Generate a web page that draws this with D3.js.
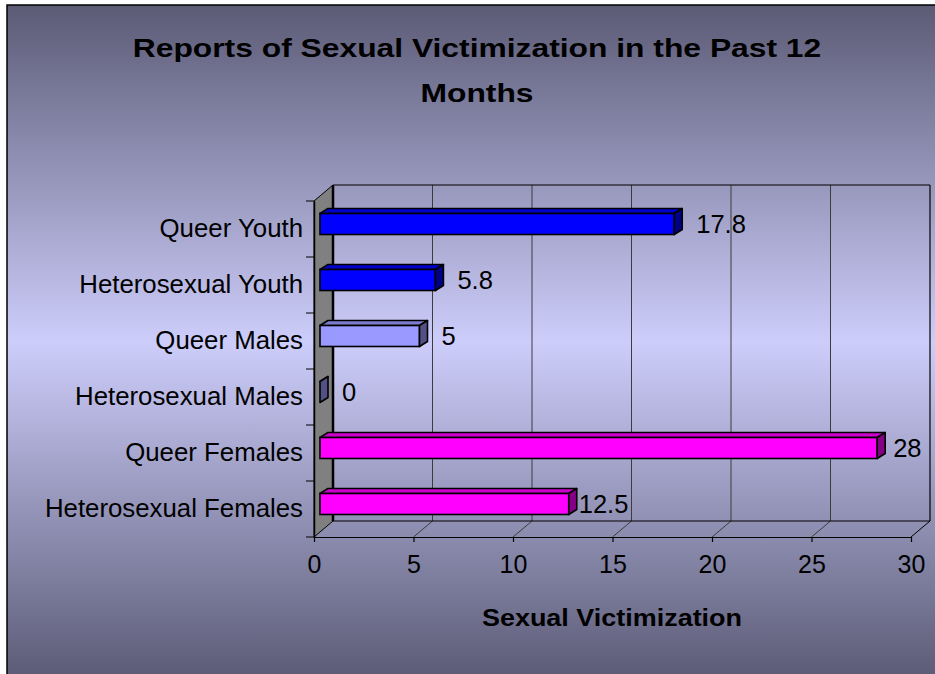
<!DOCTYPE html>
<html>
<head>
<meta charset="utf-8">
<script src="https://cdn.jsdelivr.net/npm/d3@7"></script>
<style>
    body { margin: 0; background: #fff; }
    svg { display: block; font-family: "Liberation Sans", Arial, sans-serif; }
</style>
</head>
<body>
<div class="charts-container"></div>
<script>
// chart data
const categories = ["Queer Youth", "Heterosexual Youth", "Queer Males", "Heterosexual Males", "Queer Females", "Heterosexual Females"];
const victimization = [17.8, 5.8, 5, 0, 28, 12.5];
const barColors = ["#0000ff", "#0000ff", "#9999ff", "#9999ff", "#ff00ff", "#ff00ff"];
const xTicks = [0, 5, 10, 15, 20, 25, 30];
const titleLines = ["Reports of Sexual Victimization in the Past 12", "Months"];
const axisTitle = "Sexual Victimization";

function drawBarChart() {
    const width = 935;
    const height = 674;
    const svg = d3.select(".charts-container").append("svg")
        .attr("width", width)
        .attr("height", height);

    // background: dark - light - dark vertical gradient
    const grad = svg.append("defs").append("linearGradient")
        .attr("id", "bg")
        .attr("x1", 0).attr("y1", 0).attr("x2", 0).attr("y2", 1);
    grad.append("stop").attr("offset", "0%").attr("stop-color", "#5b5b76");
    grad.append("stop").attr("offset", "50%").attr("stop-color", "#cdcdfb");
    grad.append("stop").attr("offset", "100%").attr("stop-color", "#5b5b76");

    svg.append("rect")
        .attr("x", 7).attr("y", 5)
        .attr("width", width).attr("height", height)
        .attr("fill", "url(#bg)")
        .attr("stroke", "#000")
        .attr("stroke-width", 1.5);

    // scales on the front plane of the 3d box
    const x = d3.scaleLinear().domain([0, 30]).range([314, 911]);
    const y = d3.scaleBand().domain(categories).range([201, 537])
        .paddingInner(0.625).paddingOuter(0.3125);

    const depthX = 19, depthY = -16;     // wall depth
    const barOffX = 6, barOffY = -5;     // bar front face sits a bit into the box
    const barDX = 8, barDY = -5;         // bar depth

    const [top, bottom] = y.range();
    const [left, right] = x.range();
    const lineCol = "#3c3c3c";

    const g = svg.append("g");

    // side wall (grey)
    g.append("path")
        .attr("d", d3.line()([[left, top], [left + depthX, top + depthY], [left + depthX, bottom + depthY], [left, bottom]]) + "Z")
        .attr("fill", "#808080")
        .attr("stroke", "#000")
        .attr("stroke-width", 1);

    // gridlines on back wall and floor
    xTicks.slice(1).forEach(t => {
        g.append("line")
            .attr("x1", x(t) + depthX).attr("x2", x(t) + depthX)
            .attr("y1", top + depthY).attr("y2", bottom + depthY)
            .attr("stroke", t === 30 ? "#000" : lineCol)
            .attr("stroke-width", t === 30 ? 1.2 : 1);
        g.append("line")
            .attr("x1", x(t)).attr("y1", bottom)
            .attr("x2", x(t) + depthX).attr("y2", bottom + depthY)
            .attr("stroke", t === 30 ? "#000" : lineCol)
            .attr("stroke-width", 1);
    });

    // back wall top and floor back edge
    g.append("line")
        .attr("x1", left + depthX).attr("x2", right + depthX)
        .attr("y1", top + depthY).attr("y2", top + depthY)
        .attr("stroke", "#000").attr("stroke-width", 1.2);
    g.append("line")
        .attr("x1", left + depthX).attr("x2", right + depthX)
        .attr("y1", bottom + depthY).attr("y2", bottom + depthY)
        .attr("stroke", "#000").attr("stroke-width", 1.2);
    g.append("line")
        .attr("x1", left + depthX).attr("x2", left + depthX)
        .attr("y1", top + depthY).attr("y2", bottom + depthY)
        .attr("stroke", "#000").attr("stroke-width", 2.5);

    // bars
    const data = categories.map((c, i) => ({cat: c, value: victimization[i], color: barColors[i]}));
    const bars = g.append("g").selectAll("g").data(data).join("g");

    bars.each(function(d) {
        const bar = d3.select(this);
        const x0 = x(0) + barOffX;
        const x1 = x(d.value) + barOffX;
        const y0 = y(d.cat) + barOffY;
        const y1 = y0 + y.bandwidth();
        const col = d3.color(d.color);

        // top face
        bar.append("path")
            .attr("d", d3.line()([[x0, y0], [x0 + barDX, y0 + barDY], [x1 + barDX, y0 + barDY], [x1, y0]]) + "Z")
            .attr("fill", col.darker(0.6))
            .attr("stroke", "#000").attr("stroke-width", 1.6).attr("stroke-linejoin", "round");
        // front face
        if (d.value > 0) {
            bar.append("rect")
                .attr("x", x0).attr("y", y0)
                .attr("width", x1 - x0).attr("height", y1 - y0)
                .attr("fill", col)
                .attr("stroke", "#000").attr("stroke-width", 1.6);
        }
        // end face
        bar.append("path")
            .attr("d", d3.line()([[x1, y0], [x1 + barDX, y0 + barDY], [x1 + barDX, y1 + barDY], [x1, y1]]) + "Z")
            .attr("fill", col.darker(1.8))
            .attr("stroke", "#000").attr("stroke-width", 1.6).attr("stroke-linejoin", "round");

        // value label
        bar.append("text")
            .attr("x", x1 + barDX + (d.value > 25 ? 8 : d.value > 10 && d.value < 15 ? 2 : 14))
            .attr("y", y0 + y.bandwidth() / 2 + 9)
            .attr("font-size", 25.5)
            .attr("fill", "#000")
            .text(d.value);
    });

    // value axis along the front of the floor
    svg.append("g")
        .attr("transform", `translate(0,${bottom})`)
        .call(d3.axisBottom(x).tickValues(xTicks).tickSize(5).tickPadding(13).tickSizeOuter(0))
        .call(a => a.selectAll("text").attr("font-size", 25).attr("font-family", null).attr("fill", "#000"))
        .call(a => a.selectAll("line, path").attr("stroke", "#000").attr("stroke-width", 1.2));

    // category axis on the left edge of the side wall
    svg.append("g")
        .attr("transform", `translate(${left},0)`)
        .call(d3.axisLeft(y).tickSize(0).tickPadding(11))
        .call(a => a.select(".domain").attr("stroke", "#000").attr("stroke-width", 1.5))
        .call(a => a.selectAll("text").attr("font-size", 25.8).attr("font-family", null).attr("fill", "#000"));

    // category ticks sit between the bands
    svg.append("g").selectAll("line")
        .data(d3.range(categories.length + 1))
        .join("line")
        .attr("x1", left - 8).attr("x2", left)
        .attr("y1", i => top + i * y.step())
        .attr("y2", i => top + i * y.step())
        .attr("stroke", "#000").attr("stroke-width", 1);

    // title
    const title = svg.append("g")
        .attr("transform", "translate(477,0) scale(1.2,1)");
    title.selectAll("text")
        .data(titleLines)
        .join("text")
        .attr("x", 0)
        .attr("y", (d, i) => 57 + i * 45)
        .attr("text-anchor", "middle")
        .attr("font-size", 26.5)
        .attr("font-weight", "bold")
        .text(d => d);

    // axis title
    svg.append("g")
        .attr("transform", `translate(${(left + right + depthX) / 2 - 10},626) scale(1.1,1)`)
        .append("text")
        .attr("text-anchor", "middle")
        .attr("font-size", 24.5)
        .attr("font-weight", "bold")
        .text(axisTitle);
}

drawBarChart();
</script>
</body>
</html>
